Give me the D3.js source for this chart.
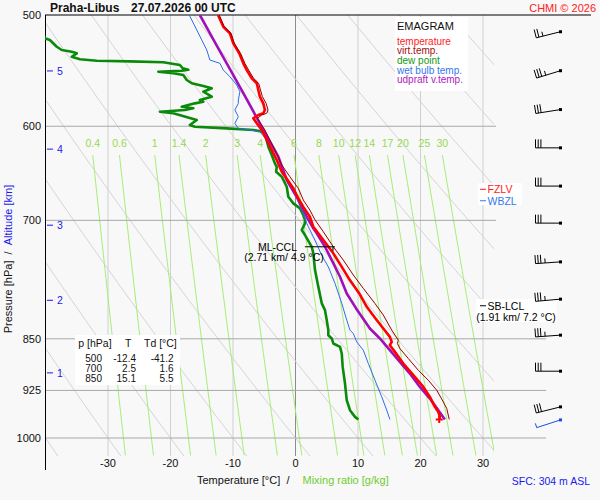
<!DOCTYPE html>
<html><head><meta charset="utf-8">
<script src="https://cdn.jsdelivr.net/npm/d3@7"></script>
<style>
body{margin:0;background:#f8f8f8;}
svg{display:block;font-family:"Liberation Sans",Arial,sans-serif;}
</style>
</head><body>
<svg id="c" width="600" height="500"></svg>
<script>
// ---------- data ----------
const pressureTicks = [500, 600, 700, 850, 925, 1000];
const tempTicks = [-30, -20, -10, 0, 10, 20, 30];
const mixingRatios = [0.4, 0.6, 1, 1.4, 2, 3, 4, 6, 8, 10, 12, 14, 17, 20, 25, 30];
const thetaLines = [-40, -30, -20, -10, 0, 10, 20, 30, 40, 50, 60, 70, 80, 90, 100];
const altitudeKm = [1, 2, 3, 4, 5];
const altitudeP = [898.8, 798, 705.6, 622.9, 548];

// [pressure hPa, temperature °C]
const temperature = [[500,-12.4],[509.7,-11.55],[515.2,-10.5],[523.7,-9.95],[532.4,-9.0],[541.2,-8.35],[547.2,-7.8],[554.7,-7.0],[559.2,-6.2],[565.4,-5.95],[571.6,-5.7],[577.9,-5.15],[584.2,-4.9],[587.4,-5.15],[589.0,-5.95],[592.2,-6.75],[597.1,-6.2],[603.7,-5.4],[613.7,-4.6],[623.8,-3.8],[634.1,-3.0],[646.4,-2.2],[658.8,-0.9],[664.2,-0.35],[675.3,0.45],[684.7,1.25],[695.9,2.3],[700,2.5],[707.4,2.85],[722.9,4.45],[738.9,6.05],[755.4,7.4],[772,8.7],[789.1,10.2],[806.6,11.4],[822.1,12.8],[835.7,14.05],[847.3,15.1],[854.3,15.4],[858.9,15.1],[868.4,15.9],[885.1,17.25],[902.2,18.85],[919.7,20.45],[934.9,21.5],[950.3,22.3],[958.2,22.85],[966,23.1],[970,23.0]];
const virtTemp = [[500,-12.2],[509.7,-11.4],[515.2,-10.3],[523.7,-9.8],[532.4,-8.8],[541.2,-8.1],[547.2,-7.5],[554.7,-6.7],[559.2,-5.9],[565.4,-5.6],[571.6,-5.3],[577.9,-4.7],[584.2,-4.4],[587.4,-4.6],[589.0,-5.4],[592.2,-6.1],[597.1,-5.6],[603.7,-4.9],[613.7,-4.1],[623.8,-3.3],[639.3,-2.2],[651.7,-0.9],[664.2,0.45],[677.1,1.25],[688.3,2.3],[699.3,3.1],[713.2,4.45],[731,6.05],[747.1,7.65],[765.6,9.25],[782.6,10.85],[802,12.7],[817.6,14.05],[838,15.4],[851.9,16.45],[856.5,16.3],[863.6,16.7],[877.9,18.05],[894.9,19.65],[909.7,21.25],[924.7,22.6],[942.6,23.65],[952.9,24.2],[970,24.6]];
const dewPoint = [[500,-41.2],[519.5,-40.1],[520.9,-39.3],[526.7,-38.2],[529.5,-37.4],[531,-35.8],[532.4,-35.0],[535.4,-35.8],[537.6,-34.5],[538.9,-31.8],[539.5,-26.5],[540.2,-21.15],[542.7,-18.5],[545.6,-18.05],[547,-17.15],[547.8,-18.2],[548.3,-20.3],[548.7,-21.95],[550.1,-19.55],[551.7,-17.95],[556.2,-17.4],[559.2,-16.6],[561.7,-14.75],[563.8,-13.4],[567,-14.75],[571.6,-13.4],[574.7,-15.3],[576.3,-14.75],[577.9,-16.1],[581.1,-18.2],[582.6,-16.35],[584.2,-17.7],[585.9,-21.7],[587.4,-19.55],[593.9,-15.8],[598.8,-16.9],[600.5,-16.1],[602.1,-11.0],[603.7,-6.75],[605.4,-5.15],[607,-4.9],[620.5,-4.35],[629,-3.8],[637.6,-3.3],[641.2,-3.0],[646.4,-3.1],[651.7,-2.2],[662.5,-1.4],[673.5,-1.15],[680.8,-0.35],[686.4,0.72],[694,1.25],[699.3,1.52],[703.5,1.52],[711.2,1.0],[717.1,1.52],[731,2.6],[738.9,2.85],[759.5,3.12],[780.6,3.65],[802,4.2],[811,4.72],[824.4,5.0],[838,5.25],[845,5.25],[849.5,5.8],[856.5,6.05],[861.3,7.12],[870.7,7.4],[890,7.55],[914.6,7.92],[940,8.2],[955.5,8.72],[966,9.52],[970,10.05]];
const wetBulb = [[500,-17.0],[504.1,-16.6],[512.4,-15.8],[520.9,-15.0],[529.5,-14.2],[538.3,-13.7],[541.2,-12.1],[547.2,-11.55],[553.2,-10.5],[560.8,-9.4],[567,-8.9],[574.7,-9.15],[577.9,-9.15],[584.2,-9.7],[590.7,-9.15],[597.1,-9.7],[602.1,-9.15],[603.7,-7.3],[605.4,-5.7],[613.7,-4.6],[623.8,-3.8],[637.6,-2.75],[648.1,-1.95],[662.5,-0.9],[675.3,0.2],[688.3,1.0],[703.5,1.8],[707.4,2.05],[719,2.85],[741.4,4.2],[755.4,5.25],[776.2,6.32],[802,7.4],[824.4,8.2],[838,8.72],[842.6,9.25],[854.3,9.8],[866,10.85],[885.1,11.65],[909.7,12.72],[934.9,13.8],[955.5,14.6],[970,15.1]];
const updraftVT = [[500,-15.3],[523.7,-12.8],[547.2,-10.4],[574.7,-7.75],[600.5,-5.4],[630.6,-2.75],[655.2,-1.4],[673.5,0.2],[695.9,1.8],[709.2,2.85],[715.1,3.4],[731,4.72],[747.1,5.8],[767.8,7.12],[789.1,8.2],[808.7,9.7],[822.1,10.8],[835.7,11.9],[849.5,13.5],[866,15.1],[882.9,16.7],[899.8,18.3],[919.7,19.9],[937.4,21.5],[955.5,22.85],[970,23.9]];

// wind barbs
const windP   = [513.9, 547.8, 583.8, 621.6, 661.8, 703.2, 749.3, 796.5, 844.9, 896.3, 950.3, 970.8];
const windDir = [256, 253, 261, 270, 270, 270, 266, 265, 266, 270, 256, 252];
const windSpd = [25, 35, 30, 30, 30, 30, 35, 35, 35, 30, 30, 5];

// table
const tableP  = ["500", "700", "850"];
const tableT  = ["-12.4", "2.5", "15.1"];
const tableTd = ["-41.2", "1.6", "5.5"];

const legendItems = ["temperature", "virt.temp.", "dew point", "wet bulb temp.", "udpraft v.temp."];
const legendColors = ["#ff1a1a", "#a01010", "#119911", "#3377ee", "#b020c0"];

const fzlvP = 665.3, wbzlP = 677.9, sbLclP = 805.2, mlCclP = 731;
const surfaceP = 970, surfaceT = 23.0;

// ---------- scales ----------
const svg = d3.select("#c");
const x = d3.scaleLinear().domain([-40, 30]).range([45.5, 483]);
const y = d3.scaleLog().domain([500, 1000]).range([15, 438]);
const gridBottomP = 1030;
const gridRight = 494;

svg.append("rect").attr("width", 600).attr("height", 500).attr("fill", "#f8f8f8");

const defs = svg.append("defs");
defs.append("clipPath").attr("id", "gclip").append("rect")
  .attr("x", 45).attr("y", 15).attr("width", gridRight - 45).attr("height", y(gridBottomP) - 15);
defs.append("clipPath").attr("id", "dclip").append("rect")
  .attr("x", 45).attr("y", 15).attr("width", 460).attr("height", 455);

const grid = svg.append("g").attr("clip-path", "url(#gclip)");

// isotherms
grid.selectAll("line.iso").data(tempTicks).join("line")
  .attr("x1", d => x(d)).attr("x2", d => x(d))
  .attr("y1", 15).attr("y2", y(gridBottomP))
  .attr("stroke", d => d === 0 ? "#8c8c8c" : "#d0d0d0").attr("stroke-width", 1);

// dry adiabats
const pSteps = d3.range(500, gridBottomP + 1, 5);
const adLine = d3.line().x(d => x(d[1])).y(d => y(d[0]));
grid.selectAll("path.ad").data(thetaLines).join("path")
  .attr("d", th => adLine(pSteps.map(p => [p, (th + 273.15) * Math.pow(p / 1000, 0.2857) - 273.15])))
  .attr("fill", "none").attr("stroke", "#d4d4d4").attr("stroke-width", 1);

// mixing ratio lines
const mrTopP = 629;
function tdFromW(w, p) {
  const e = w * p / (622 + w);
  const l = Math.log(e / 6.112);
  return 243.5 * l / (17.67 - l);
}
const mrSteps = d3.range(mrTopP, gridBottomP + 1, 10);
grid.selectAll("path.mr").data(mixingRatios).join("path")
  .attr("d", w => adLine(mrSteps.map(p => [p, tdFromW(w, p)])))
  .attr("fill", "none").attr("stroke", "#a6ee74").attr("stroke-width", 1);

svg.selectAll("text.mr").data(mixingRatios).join("text")
  .attr("x", w => x(tdFromW(w, mrTopP))).attr("y", 147)
  .attr("text-anchor", "middle").attr("font-size", "10.5px").attr("fill", "#96d850")
  .text(w => w);

// isobars
svg.selectAll("line.isobar").data(pressureTicks.slice(1)).join("line")
  .attr("x1", 45).attr("x2", d => d >= 850 ? 546 : 496)
  .attr("y1", d => y(d)).attr("y2", d => y(d))
  .attr("stroke", "#a8a8a8").attr("stroke-width", 1);

// boxes
svg.append("rect").attr("x", 395).attr("y", 17).attr("width", 73).attr("height", 74).attr("fill", "#fff");
svg.append("rect").attr("x", 75).attr("y", 335).attr("width", 105).attr("height", 50).attr("fill", "#fff");
svg.append("rect").attr("x", 478).attr("y", 183).attr("width", 44).attr("height", 22).attr("fill", "#fff");
svg.append("rect").attr("x", 476).attr("y", 299).attr("width", 81).attr("height", 23).attr("fill", "#fff");

// axes frame
svg.append("line").attr("x1", 45).attr("x2", 591).attr("y1", 15).attr("y2", 15).attr("stroke", "#000");
svg.append("line").attr("x1", 45.5).attr("x2", 45.5).attr("y1", 15).attr("y2", 470).attr("stroke", "#000");

// profiles
const prof = svg.append("g").attr("clip-path", "url(#dclip)");
const pline = d3.line().x(d => x(d[1])).y(d => y(d[0]));
function drawProfile(data, color, width) {
  prof.append("path").datum(data).attr("d", pline)
    .attr("fill", "none").attr("stroke", color).attr("stroke-width", width)
    .attr("stroke-linejoin", "round");
}
drawProfile(dewPoint, "#0a8a0a", 2.6);
drawProfile(wetBulb, "#2a6fe6", 1);
drawProfile(updraftVT, "#a010b8", 2.6);
drawProfile(temperature, "#ff0000", 2.6);
drawProfile(virtTemp, "#990000", 1);

// surface marker
const sx = x(surfaceT), sy = y(surfaceP);
svg.append("path").attr("d", `M${sx-3.5},${sy}H${sx+3.5}M${sx},${sy-3.5}V${sy+3.5}`)
  .attr("stroke", "#ff0000").attr("stroke-width", 2);

// ML-CCL marker
const cy = y(mlCclP);
svg.append("path").attr("d", `M${x(1.5)},${cy}H${x(6.3)}M${x(6.0)},${cy}v4`)
  .attr("stroke", "#000").attr("stroke-width", 1).attr("fill", "none");
svg.append("text").attr("x", 297).attr("y", cy + 4).attr("text-anchor", "end")
  .attr("font-size", "10.5px").text("ML-CCL");
svg.append("text").attr("x", 284).attr("y", cy + 14.5).attr("text-anchor", "middle")
  .attr("font-size", "10.5px").text("(2.71 km/ 4.9 °C)");

// FZLV / WBZL / SB-LCL
function levelMark(p, label, color) {
  svg.append("line").attr("x1", 480).attr("x2", 486).attr("y1", y(p)).attr("y2", y(p))
    .attr("stroke", color);
  svg.append("text").attr("x", 487.5).attr("y", y(p) + 4).attr("font-size", "10.5px")
    .attr("fill", color).text(label);
}
levelMark(fzlvP, "FZLV", "#ff1a1a");
levelMark(wbzlP, "WBZL", "#3377ee");
levelMark(sbLclP, "SB-LCL", "#000");
svg.append("text").attr("x", 516).attr("y", y(sbLclP) + 15).attr("text-anchor", "middle")
  .attr("font-size", "10.5px").text("(1.91 km/ 7.2 °C)");

// pressure labels
svg.selectAll("text.pl").data(pressureTicks).join("text")
  .attr("x", 41).attr("y", d => y(d) + 4).attr("text-anchor", "end")
  .attr("font-size", "11px").attr("fill", "#111").text(d => d);

// temperature labels
svg.selectAll("text.tl").data(tempTicks).join("text")
  .attr("x", d => x(d)).attr("y", 466.5).attr("text-anchor", "middle")
  .attr("font-size", "11px").attr("fill", "#111").text(d => d);

// altitude labels
altitudeKm.forEach((km, i) => {
  const yy = y(altitudeP[i]);
  svg.append("line").attr("x1", 47).attr("x2", 53).attr("y1", yy).attr("y2", yy).attr("stroke", "#1a1aee");
  svg.append("text").attr("x", 57).attr("y", yy + 4).attr("font-size", "10.5px")
    .attr("fill", "#1a1aee").text(km);
});

// wind barbs
const barbs = svg.append("g");
windP.forEach((p, i) => {
  const color = i === windP.length - 1 ? "#1a4ee0" : "#000";
  const cx = 560.5, cyb = y(p);
  const r = windDir[i] * Math.PI / 180;
  const dx = Math.sin(r), dy = -Math.cos(r);
  const L = 25;
  const ex = cx + dx * L, ey = cyb + dy * L;
  const px = -dy, py = dx;
  barbs.append("line").attr("x1", cx).attr("y1", cyb).attr("x2", ex).attr("y2", ey)
    .attr("stroke", color).attr("stroke-width", 1);
  barbs.append("rect").attr("x", cx - 1.5).attr("y", cyb - 1.5).attr("width", 3).attr("height", 3).attr("fill", color);
  let s = windSpd[i];
  const n10 = Math.floor(s / 10);
  const n5 = Math.round((s - n10 * 10) / 5);
  let pos = 0;
  for (let k = 0; k < n10; k++) {
    const bx = ex - dx * pos, by = ey - dy * pos;
    barbs.append("line").attr("x1", bx).attr("y1", by).attr("x2", bx + px * 8.5).attr("y2", by + py * 8.5)
      .attr("stroke", color).attr("stroke-width", 1);
    pos += 2.7;
  }
  if (n5) {
    if (n10 > 0) pos += 1.5;
    const bx = ex - dx * pos, by = ey - dy * pos;
    barbs.append("line").attr("x1", bx).attr("y1", by).attr("x2", bx + px * 4.5).attr("y2", by + py * 4.5)
      .attr("stroke", color).attr("stroke-width", 1);
  }
});

// legend
svg.append("text").attr("x", 397).attr("y", 29.5).attr("font-size", "11px").attr("fill", "#111").text("EMAGRAM");
svg.selectAll("text.lg").data(legendItems).join("text")
  .attr("x", 397).attr("y", (d, i) => 44.5 + i * 9.7)
  .attr("font-size", "10px").attr("fill", (d, i) => legendColors[i]).text(d => d);

// table
const tbl = svg.append("g").attr("font-size", "10px").attr("fill", "#111");
tbl.append("text").attr("x", 78.3).attr("y", 346.5).attr("font-size", "10.5px").text("p [hPa]");
tbl.append("text").attr("x", 125).attr("y", 346.5).attr("font-size", "10.5px").text("T");
tbl.append("text").attr("x", 144).attr("y", 346.5).attr("font-size", "10.5px").text("Td [°C]");
tableP.forEach((p, i) => {
  const yy = 362 + i * 10;
  tbl.append("text").attr("x", 102).attr("y", yy).attr("text-anchor", "end").text(p);
  tbl.append("text").attr("x", 136).attr("y", yy).attr("text-anchor", "end").text(tableT[i]);
  tbl.append("text").attr("x", 173.5).attr("y", yy).attr("text-anchor", "end").text(tableTd[i]);
});

// titles
svg.append("text").attr("x", 50).attr("y", 12).attr("font-size", "12px").attr("font-weight", "bold")
  .attr("fill", "#111").text("Praha-Libus");
svg.append("text").attr("x", 131).attr("y", 12).attr("font-size", "12px").attr("font-weight", "bold")
  .attr("fill", "#111").text("27.07.2026 00 UTC");
svg.append("text").attr("x", 596).attr("y", 11.5).attr("text-anchor", "end").attr("font-size", "11px")
  .attr("fill", "#ff2020").text("CHMI © 2026");

svg.append("text").attr("x", 197).attr("y", 483.5).attr("font-size", "11px").attr("fill", "#111")
  .text("Temperature [°C]\u00a0\u00a0/");
svg.append("text").attr("x", 302.5).attr("y", 483.5).attr("font-size", "11px").attr("fill", "#70cc30")
  .text("Mixing ratio [g/kg]");
svg.append("text").attr("x", 590).attr("y", 485).attr("text-anchor", "end").attr("font-size", "10.5px")
  .attr("fill", "#1a1aee").text("SFC: 304 m ASL");

const yt = svg.append("text").attr("transform", "translate(12,259) rotate(-90)")
  .attr("text-anchor", "middle").attr("font-size", "11px").attr("fill", "#111");
yt.append("tspan").text("Pressure [hPa]\u00a0\u00a0/\u00a0\u00a0");
yt.append("tspan").attr("fill", "#1a1aee").text("Altitude [km]");
</script>
</body></html>
